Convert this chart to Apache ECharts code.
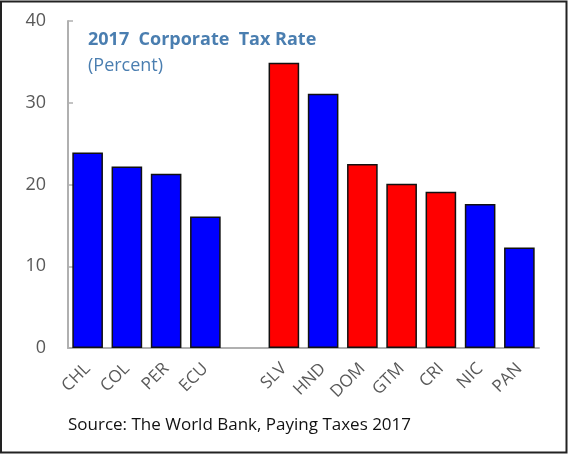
<!DOCTYPE html>
<html>
<head>
<meta charset="utf-8">
<script src="https://cdn.jsdelivr.net/npm/echarts@6/dist/echarts.min.js"></script>
<style>html,body{margin:0;padding:0;background:#fff;}#c{width:568px;height:455px;}</style>
</head>
<body>
<div id="c"></div>
<script>
const categories = ['CHL','COL','PER','ECU','','SLV','HND','DOM','GTM','CRI','NIC','PAN'];
const values = [23.9, 22.2, 21.3, 16.1, null, 34.9, 31.1, 22.5, 20.1, 19.1, 17.6, 12.3];
const barColors = ['#0000ff','#0000ff','#0000ff','#0000ff','#0000ff','#ff0000','#0000ff','#ff0000','#ff0000','#ff0000','#0000ff','#0000ff'];
const yTicks = [0, 10, 20, 30, 40];
const titleText = '2017  Corporate  Tax Rate';
const subtitleText = '(Percent)';
const sourceText = 'Source: The World Bank, Paying Taxes 2017';

const chart = echarts.init(document.getElementById('c'), null, {renderer: 'canvas'});
chart.setOption({
  animation: false,
  backgroundColor: '#fff',
  grid: {left: 68, right: 29, top: 21, bottom: 107, containLabel: false},
  xAxis: {
    type: 'category',
    data: categories,
    axisLine: {lineStyle: {color: '#b0b0b0', width: 2}},
    axisTick: {inside: true, length: 5, lineStyle: {color: '#b0b0b0', width: 1.5}},
    axisLabel: {rotate: 45, interval: 0, color: '#595959', fontSize: 17, fontFamily: 'Open Sans', margin: 18}
  },
  yAxis: {
    type: 'value',
    min: yTicks[0], max: yTicks[yTicks.length - 1], interval: 10,
    splitLine: {show: false},
    axisLine: {show: true, lineStyle: {color: '#b0b0b0', width: 2}},
    axisTick: {show: true, inside: true, length: 5, lineStyle: {color: '#b0b0b0', width: 1.5}},
    axisLabel: {color: '#595959', fontSize: 18, fontFamily: 'Open Sans', margin: 22}
  },
  series: [{
    type: 'bar',
    barCategoryGap: '22%',
    data: values.map((v, i) => ({value: v, itemStyle: {color: barColors[i]}})),
    itemStyle: {borderColor: '#111', borderWidth: 1.5}
  }],
  graphic: [
    {type: 'rect', shape: {x: 1, y: 1.5, width: 565.5, height: 451}, style: {fill: 'none', stroke: '#222', lineWidth: 2}, silent: true},
    {type: 'text', left: 88, top: 31, style: {text: titleText, fill: '#4a7eb0', font: 'bold 18px "Open Sans"'}},
    {type: 'text', left: 88, top: 57, style: {text: subtitleText, fill: '#4a7eb0', font: '18px "Open Sans"'}},
    {type: 'text', left: 68, top: 417, style: {text: sourceText, fill: '#111', font: '17px "Open Sans"'}}
  ]
});
</script>
</body>
</html>
